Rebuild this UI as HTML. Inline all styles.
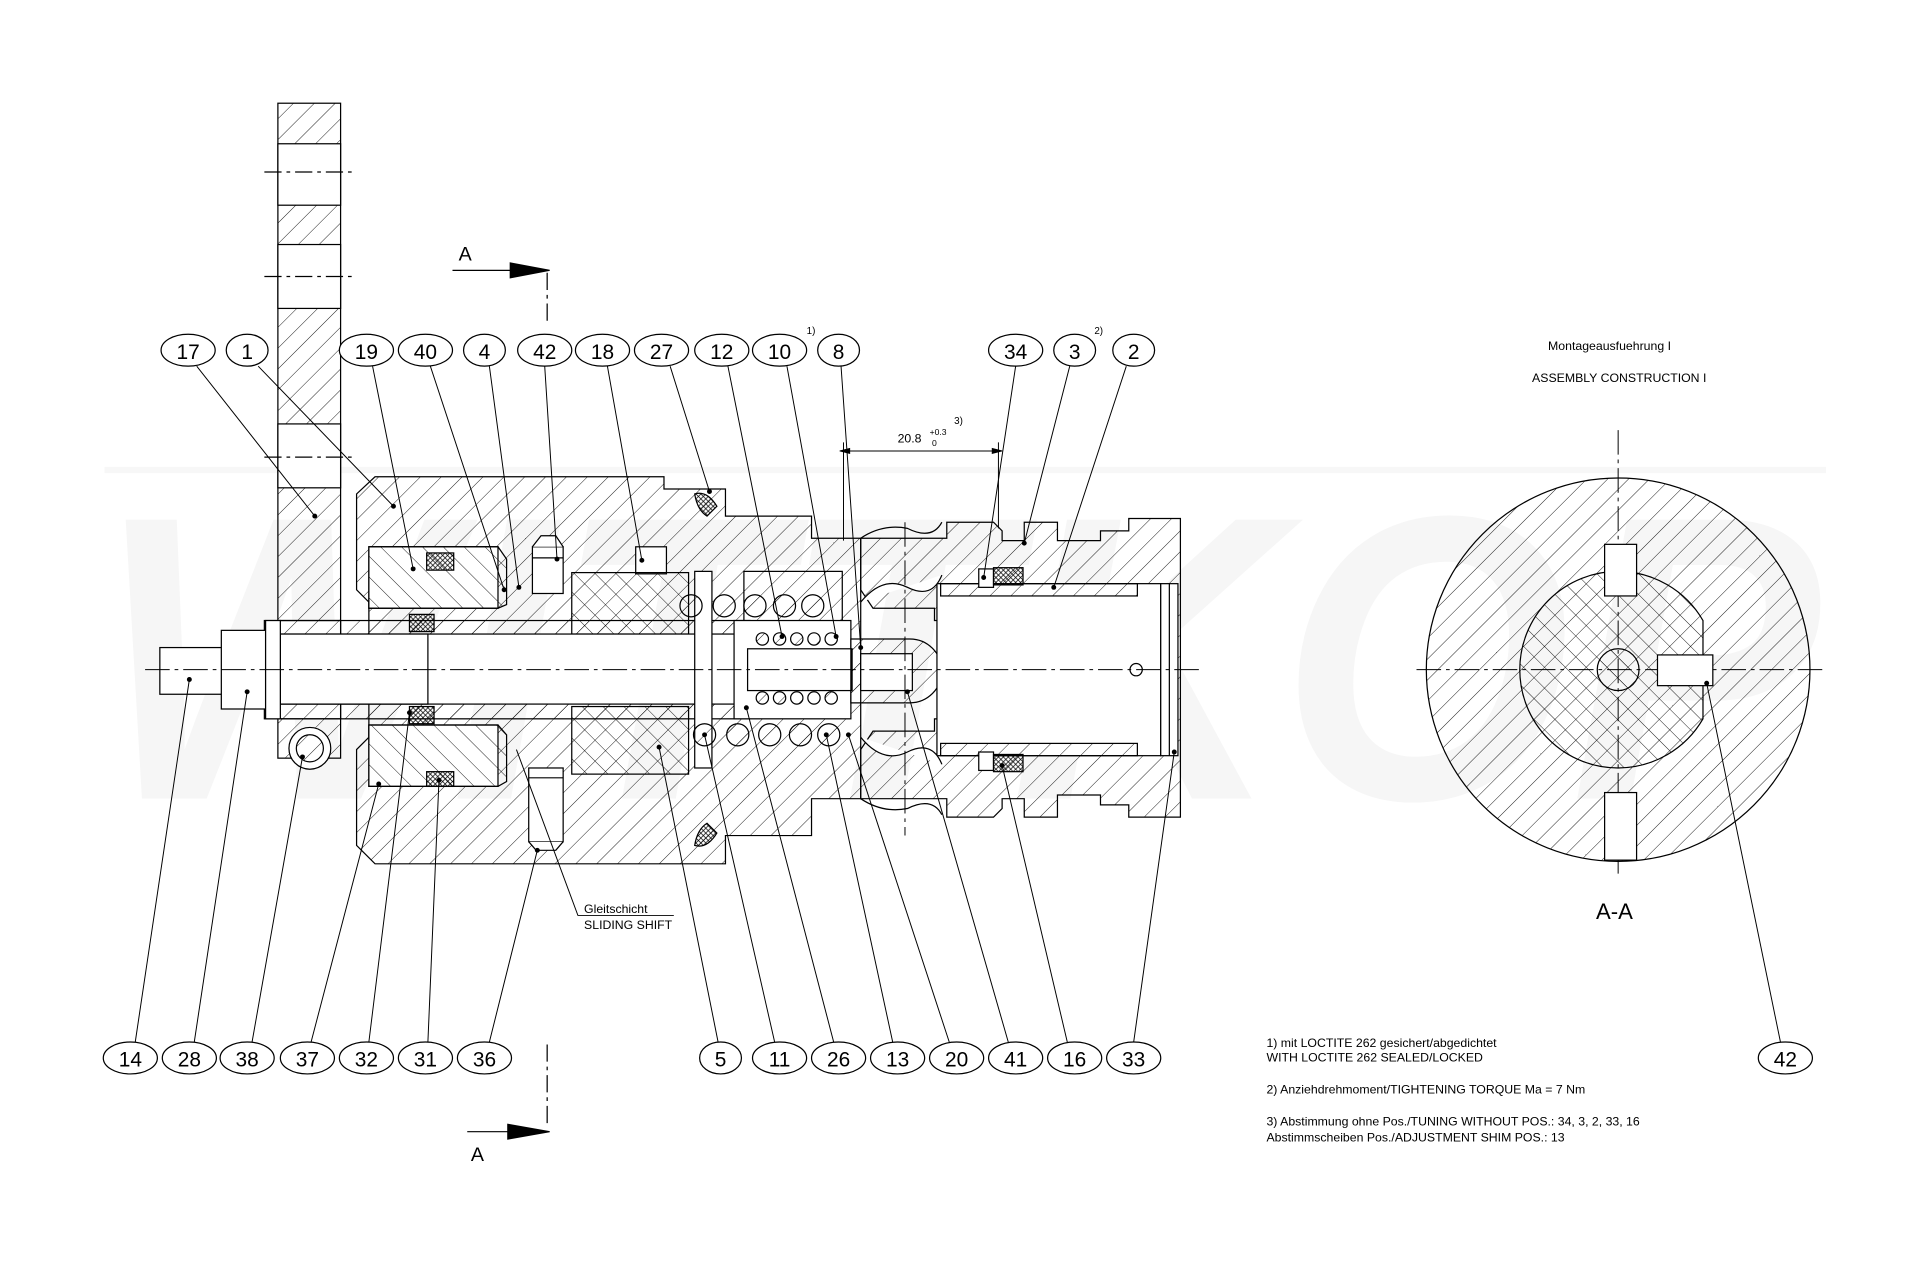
<!DOCTYPE html>
<html><head><meta charset="utf-8"><style>
html,body{margin:0;padding:0;background:#fff}
svg{display:block}
text{font-family:"Liberation Sans",sans-serif;fill:#000}
</style></head><body>
<svg width="1928" height="1273" viewBox="0 0 1568 1036" preserveAspectRatio="none" xmlns="http://www.w3.org/2000/svg">
<defs>
<pattern id="h" width="12" height="12" patternUnits="userSpaceOnUse" patternTransform="rotate(45)"><line x1="0" y1="0" x2="0" y2="12" stroke="#000" stroke-width="0.7"/></pattern>
<pattern id="h2" width="12" height="12" patternUnits="userSpaceOnUse" patternTransform="rotate(-45)"><line x1="0" y1="0" x2="0" y2="12" stroke="#000" stroke-width="0.7"/></pattern>
<pattern id="x" width="4" height="4" patternUnits="userSpaceOnUse"><path d="M0 0L4 4M4 0L0 4" stroke="#000" stroke-width="0.6"/></pattern>
</defs>
<rect width="1568" height="1036" fill="#fff"/>
<text x="80" y="650" font-size="330" font-style="italic" font-weight="bold" style="fill:#f6f6f6" textLength="1400" lengthAdjust="spacingAndGlyphs">WITTKOP</text>
<rect x="85" y="380" width="1400" height="5" fill="#f7f7f7"/>

<g stroke="#000" stroke-width="1" fill="none">
<rect x="226" y="84" width="51" height="533" fill="url(#h)"/>
<g fill="#fff"><rect x="226" y="117" width="51" height="50"/><rect x="226" y="199" width="51" height="52"/><rect x="226" y="345" width="51" height="52"/><rect x="226" y="505" width="51" height="80"/></g>
<line x1="215" y1="140" x2="290" y2="140" stroke-dasharray="14 4 3 4"/>
<line x1="215" y1="225" x2="290" y2="225" stroke-dasharray="14 4 3 4"/>
<line x1="215" y1="372" x2="290" y2="372" stroke-dasharray="14 4 3 4"/>
<path d="M305 388H540V398H590V420H660V438L700 438V650L660 650V680H590V703H305L290 688V610L300 600V490L290 480V402Z" fill="url(#h)"/>
<path d="M300 445H405V495H300Z M300 590H405V640H300Z" fill="#fff"/>
<path d="M300 445L405 445L412 455V492L405 495H300Z" fill="url(#h2)"/>
<path d="M300 590L405 590L412 598V636L405 640H300Z" fill="url(#h2)"/>
<rect x="347" y="450" width="22" height="14" fill="url(#x)"/>
<rect x="333" y="500" width="20" height="14" fill="url(#x)"/>
<rect x="333" y="575" width="20" height="14" fill="url(#x)"/>
<rect x="347" y="628" width="22" height="12" fill="url(#x)"/>
<rect x="433" y="445" width="25" height="38" fill="#fff"/><path d="M433 445L440 436H452L458 445" fill="#fff"/>
<line x1="433" y1="454" x2="458" y2="454"/>
<rect x="430" y="625" width="28" height="60" fill="#fff"/><path d="M430 685L436 692H452L458 685" fill="#fff"/>
<line x1="430" y1="633" x2="458" y2="633"/>
<rect x="517" y="445" width="25" height="22" fill="#fff"/>
<rect x="465" y="466" width="95" height="50" fill="url(#h2)"/>
<rect x="465" y="575" width="95" height="55" fill="url(#h2)"/>
<rect x="215" y="505" width="395" height="80" fill="url(#h)"/>
<rect x="228" y="516" width="380" height="57" fill="#fff"/>
<rect x="228" y="516" width="120" height="57" fill="#fff"/>
<rect x="130" y="527" width="52" height="38" fill="#fff"/>
<rect x="180" y="513" width="36" height="64" fill="#fff"/>
<rect x="216" y="505" width="12" height="80" fill="#fff"/>
<circle cx="252" cy="609" r="17" fill="#fff"/>
<circle cx="252" cy="609" r="11" fill="url(#h)"/>
<path d="M565 402q10-3 18 10l-8 8q-8-5-10-18Z" fill="url(#x)"/>
<path d="M565 688q10 3 18-10l-8-8q-8 5-10 18Z" fill="url(#x)"/>
<rect x="565" y="465" width="14" height="160" fill="#fff"/>
<g fill="url(#h)">
<circle cx="562" cy="493" r="9"/><circle cx="589" cy="493" r="9"/><circle cx="614" cy="493" r="9"/><circle cx="638" cy="493" r="9"/><circle cx="661" cy="493" r="9"/>
<circle cx="573" cy="598" r="9"/><circle cx="600" cy="598" r="9"/><circle cx="626" cy="598" r="9"/><circle cx="651" cy="598" r="9"/><circle cx="674" cy="598" r="9"/>
</g>
<rect x="605" y="465" width="80" height="115" fill="none"/>
<rect x="597" y="505" width="95" height="80" fill="#fff"/>
<g fill="url(#h)"><circle cx="620" cy="520" r="5"/><circle cx="634" cy="520" r="5"/><circle cx="648" cy="520" r="5"/><circle cx="662" cy="520" r="5"/><circle cx="676" cy="520" r="5"/>
<circle cx="620" cy="568" r="5"/><circle cx="634" cy="568" r="5"/><circle cx="648" cy="568" r="5"/><circle cx="662" cy="568" r="5"/><circle cx="676" cy="568" r="5"/></g>
<rect x="608" y="528" width="85" height="34" fill="#fff"/>
<path d="M692 520H740A26 26 0 0 1 740 572H692Z" fill="url(#h)"/>
<rect x="700" y="532" width="42" height="30" fill="#fff"/>
<path d="M700 438H770V425H808L815 432V440H833V425H860V440H895V432H918V422H960V665H918V655H895V647H860V665H833V650H815V658L808 665H770V650H700V610L710 595H760V585H940V505H760V495H710L700 480Z" fill="url(#h)"/>
<rect x="762" y="475" width="182" height="140" fill="#fff"/>
<path d="M700 490q18 -22 38 -12q20 10 28 -10" fill="#fff"/>
<path d="M700 600q18 22 38 12q20 -10 28 10" fill="#fff"/>
<path d="M700 438q18 -12 38 -8q20 10 28 -5M700 650q18 12 38 8q20 -10 28 5"/>
<rect x="765" y="475" width="160" height="10" fill="url(#h)"/>
<rect x="765" y="605" width="160" height="10" fill="url(#h)"/>
<rect x="796" y="463" width="12" height="15" fill="#fff"/><rect x="808" y="462" width="24" height="14" fill="url(#x)"/>
<rect x="796" y="612" width="12" height="15" fill="#fff"/><rect x="808" y="614" width="24" height="14" fill="url(#x)"/>
<rect x="944" y="475" width="14" height="140" fill="#fff"/>
<line x1="951" y1="475" x2="951" y2="615"/>
<circle cx="924" cy="545" r="5"/>
</g>
<g stroke="#000" stroke-width="0.8" stroke-dasharray="20 4 3 4" fill="none">
<line x1="118" y1="545" x2="975" y2="545"/>
<line x1="736" y1="425" x2="736" y2="680"/>
<line x1="1152" y1="545" x2="1485" y2="545"/>
<line x1="1316" y1="350" x2="1316" y2="712"/>
</g>
<g stroke="#000" stroke-width="1">
<circle cx="1316" cy="545" r="156" fill="url(#h)"/>
<path d="M1316 465A80 80 0 0 1 1385 505V585A80 80 0 0 1 1316 625A80 80 0 0 1 1316 465Z" fill="url(#h2)"/>
<circle cx="1316" cy="545" r="17" fill="url(#h2)"/>
<rect x="1348" y="533" width="45" height="25" fill="#fff"/>
<rect x="1305" y="443" width="26" height="42" fill="#fff"/>
<rect x="1305" y="645" width="26" height="55" fill="#fff"/>
</g>
<g stroke="#000" stroke-width="1" fill="#000">
<line x1="368" y1="220" x2="445" y2="220"/><path d="M415 214L447 220L415 226Z"/>
<line x1="445" y1="222" x2="445" y2="262" stroke-dasharray="14 4 3 4" fill="none"/>
<line x1="380" y1="921" x2="445" y2="921"/><path d="M413 915L447 921L413 927Z"/>
<line x1="445" y1="850" x2="445" y2="918" stroke-dasharray="14 4 3 4" fill="none"/>
</g>
<text x="373" y="212" font-size="16">A</text>
<text x="383" y="945" font-size="16">A</text>
<g stroke="#000" stroke-width="0.8" fill="#000">
<line x1="683" y1="367" x2="815" y2="367"/>
<line x1="686" y1="360" x2="686" y2="440"/><line x1="812" y1="360" x2="812" y2="430"/>
<path d="M683 367l8-2v4Z M815 367l-8-2v4Z"/>
</g>
<text x="730" y="360" font-size="10">20.8</text><text x="756" y="354" font-size="7">+0.3</text><text x="758" y="363" font-size="7">0</text><text x="776" y="345" font-size="8">3)</text>
<text x="656" y="272" font-size="8">1)</text><text x="890" y="272" font-size="8">2)</text>
<g stroke="#000" stroke-width="0.8" fill="none">
<path d="M160 298L256 420M210 298L320 412M303 298L336 463M350 298L410 480M398 298L422 478M443 298L453 455M494 298L522 456M545 298L577 400M592 298L636 518M640 298L680 518M684 298L700 527M826 298L800 470M870 298L833 442M916 298L857 478"/>
<path d="M110 848L154 553M158 848L201 563M205 848L246 616M253 848L308 638M300 848L333 580M348 848L357 635M398 848L437 692M584 848L536 608M630 848L573 598M678 848L607 576M726 848L672 598M772 848L690 598M820 848L738 563M868 848L815 623M922 848L955 612M1448 848L1388 556"/>
<path d="M420 610L470 745H548"/>
</g>
<g fill="#000"><circle cx="256" cy="420" r="2"/><circle cx="320" cy="412" r="2"/><circle cx="336" cy="463" r="2"/><circle cx="410" cy="480" r="2"/><circle cx="422" cy="478" r="2"/><circle cx="453" cy="455" r="2"/><circle cx="522" cy="456" r="2"/><circle cx="577" cy="400" r="2"/><circle cx="636" cy="518" r="2"/><circle cx="680" cy="518" r="2"/><circle cx="700" cy="527" r="2"/><circle cx="800" cy="470" r="2"/><circle cx="833" cy="442" r="2"/><circle cx="857" cy="478" r="2"/>
<circle cx="154" cy="553" r="2"/><circle cx="201" cy="563" r="2"/><circle cx="246" cy="616" r="2"/><circle cx="308" cy="638" r="2"/><circle cx="333" cy="580" r="2"/><circle cx="357" cy="635" r="2"/><circle cx="437" cy="692" r="2"/><circle cx="536" cy="608" r="2"/><circle cx="573" cy="598" r="2"/><circle cx="607" cy="576" r="2"/><circle cx="672" cy="598" r="2"/><circle cx="690" cy="598" r="2"/><circle cx="738" cy="563" r="2"/><circle cx="815" cy="623" r="2"/><circle cx="955" cy="612" r="2"/><circle cx="1388" cy="556" r="2"/></g>
<text x="475" y="743" font-size="10">Gleitschicht</text><text x="475" y="756" font-size="10">SLIDING SHIFT</text>
<g stroke="#000" stroke-width="1" fill="#fff">
<ellipse cx="153" cy="285" rx="22" ry="13"/><ellipse cx="201" cy="285" rx="17" ry="13"/><ellipse cx="298" cy="285" rx="22" ry="13"/><ellipse cx="346" cy="285" rx="22" ry="13"/><ellipse cx="394" cy="285" rx="17" ry="13"/><ellipse cx="443" cy="285" rx="22" ry="13"/><ellipse cx="490" cy="285" rx="22" ry="13"/><ellipse cx="538" cy="285" rx="22" ry="13"/><ellipse cx="587" cy="285" rx="22" ry="13"/><ellipse cx="634" cy="285" rx="22" ry="13"/><ellipse cx="682" cy="285" rx="17" ry="13"/><ellipse cx="826" cy="285" rx="22" ry="13"/><ellipse cx="874" cy="285" rx="17" ry="13"/><ellipse cx="922" cy="285" rx="17" ry="13"/>
<ellipse cx="106" cy="861" rx="22" ry="13"/><ellipse cx="154" cy="861" rx="22" ry="13"/><ellipse cx="201" cy="861" rx="22" ry="13"/><ellipse cx="250" cy="861" rx="22" ry="13"/><ellipse cx="298" cy="861" rx="22" ry="13"/><ellipse cx="346" cy="861" rx="22" ry="13"/><ellipse cx="394" cy="861" rx="22" ry="13"/><ellipse cx="586" cy="861" rx="17" ry="13"/><ellipse cx="634" cy="861" rx="22" ry="13"/><ellipse cx="682" cy="861" rx="22" ry="13"/><ellipse cx="730" cy="861" rx="22" ry="13"/><ellipse cx="778" cy="861" rx="22" ry="13"/><ellipse cx="826" cy="861" rx="22" ry="13"/><ellipse cx="874" cy="861" rx="22" ry="13"/><ellipse cx="922" cy="861" rx="22" ry="13"/><ellipse cx="1452" cy="861" rx="22" ry="13"/>
</g>
<g font-size="17" text-anchor="middle">
<text x="153" y="292">17</text><text x="201" y="292">1</text><text x="298" y="292">19</text><text x="346" y="292">40</text><text x="394" y="292">4</text><text x="443" y="292">42</text><text x="490" y="292">18</text><text x="538" y="292">27</text><text x="587" y="292">12</text><text x="634" y="292">10</text><text x="682" y="292">8</text><text x="826" y="292">34</text><text x="874" y="292">3</text><text x="922" y="292">2</text>
<text x="106" y="868">14</text><text x="154" y="868">28</text><text x="201" y="868">38</text><text x="250" y="868">37</text><text x="298" y="868">32</text><text x="346" y="868">31</text><text x="394" y="868">36</text><text x="586" y="868">5</text><text x="634" y="868">11</text><text x="682" y="868">26</text><text x="730" y="868">13</text><text x="778" y="868">20</text><text x="826" y="868">41</text><text x="874" y="868">16</text><text x="922" y="868">33</text><text x="1452" y="868">42</text>
</g>
<text x="1259" y="285" font-size="10">Montageausfuehrung I</text>
<text x="1246" y="311" font-size="10">ASSEMBLY CONSTRUCTION I</text>
<text x="1298" y="748" font-size="18">A-A</text>
<g font-size="10">
<text x="1030" y="852">1) mit LOCTITE 262 gesichert/abgedichtet</text>
<text x="1030" y="864">WITH LOCTITE 262 SEALED/LOCKED</text>
<text x="1030" y="890">2) Anziehdrehmoment/TIGHTENING TORQUE Ma = 7 Nm</text>
<text x="1030" y="916">3) Abstimmung ohne Pos./TUNING WITHOUT POS.: 34, 3, 2, 33, 16</text>
<text x="1030" y="929">Abstimmscheiben Pos./ADJUSTMENT SHIM POS.: 13</text>
</g>
</svg>
</body></html>
